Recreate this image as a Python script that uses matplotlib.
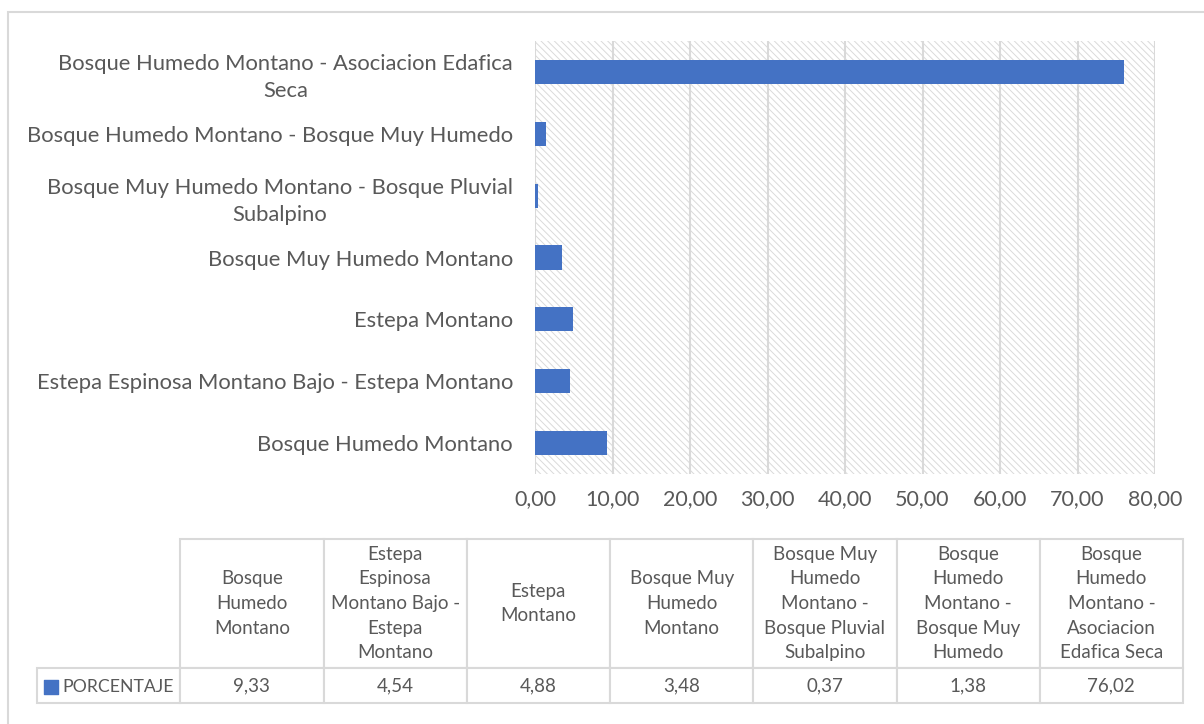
import matplotlib.pyplot as plt
import matplotlib.patches as mpatches
import numpy as np

# data (bottom to top in the bar chart, left to right in the table)
categories = [
    'Bosque Humedo Montano',
    'Estepa Espinosa Montano Bajo - Estepa Montano',
    'Estepa Montano',
    'Bosque Muy Humedo Montano',
    'Bosque Muy Humedo Montano - Bosque Pluvial Subalpino',
    'Bosque Humedo Montano - Bosque Muy Humedo',
    'Bosque Humedo Montano - Asociacion Edafica Seca',
]
axis_labels = [
    'Bosque Humedo Montano',
    'Estepa Espinosa Montano Bajo - Estepa Montano',
    'Estepa Montano',
    'Bosque Muy Humedo Montano',
    'Bosque Muy Humedo Montano - Bosque Pluvial\nSubalpino',
    'Bosque Humedo Montano - Bosque Muy Humedo',
    'Bosque Humedo Montano - Asociacion Edafica\nSeca',
]
table_labels = [
    'Bosque\nHumedo\nMontano',
    'Estepa\nEspinosa\nMontano Bajo -\nEstepa\nMontano',
    'Estepa\nMontano',
    'Bosque Muy\nHumedo\nMontano',
    'Bosque Muy\nHumedo\nMontano -\nBosque Pluvial\nSubalpino',
    'Bosque\nHumedo\nMontano -\nBosque Muy\nHumedo',
    'Bosque\nHumedo\nMontano -\nAsociacion\nEdafica Seca',
]
porcentaje = [9.33, 4.54, 4.88, 3.48, 0.37, 1.38, 76.02]
series_name = 'PORCENTAJE'
x_ticks = [0, 10, 20, 30, 40, 50, 60, 70, 80]

# style
bar_color = '#4472C4'
text_color = '#595959'
line_color = '#D9D9D9'
plt.rcParams['font.family'] = ['Lato', 'DejaVu Sans']
plt.rcParams['hatch.linewidth'] = 0.7
fs_table = 13.5
fs_ylab = 15.8
fs_xtick = 15.5

fig = plt.figure(figsize=(12.04, 7.24), dpi=100)
W, H = 1204, 724


def fig_box(x0, y0, x1, y1):
    # pixel box (top-left origin) -> figure fraction rect
    return [x0 / W, 1 - y1 / H, (x1 - x0) / W, (y1 - y0) / H]


# outer chart border (runs off the right and bottom edges)
fig.patches.append(mpatches.Rectangle((8 / W, -0.1), 1.2, 1 - 12 / H + 0.1,
                                      transform=fig.transFigure, fill=False,
                                      edgecolor=line_color, linewidth=1.5))

# bar chart
ax = fig.add_axes(fig_box(535, 41, 1155, 474))
bg = mpatches.Rectangle((0, 0), 1, 1, transform=ax.transAxes,
                        facecolor='white', edgecolor='#DADADA', hatch='\\' * 5,
                        linewidth=0, zorder=0)
ax.add_patch(bg)

y = np.arange(len(categories))
ax.barh(y, porcentaje, height=0.39, color=bar_color, zorder=3)
ax.set_ylim(-0.5, len(categories) - 0.5)
ax.set_xlim(x_ticks[0], x_ticks[-1])
ax.set_xticks(x_ticks)
ax.set_xticklabels([f'{t:.2f}'.replace('.', ',') for t in x_ticks])
ax.set_yticks(y)
ax.set_yticklabels(axis_labels, multialignment='center', linespacing=1.45)
ax.tick_params(axis='both', length=0, labelcolor=text_color)
ax.tick_params(axis='x', pad=11, labelsize=fs_xtick)
ax.tick_params(axis='y', pad=15.8, labelsize=fs_ylab)
ax.grid(axis='x', color=line_color, linewidth=1.5, zorder=1)
ax.set_axisbelow(True)
for s in ax.spines.values():
    s.set_visible(False)

# data table: first column holds the legend key
tax = fig.add_axes(fig_box(37, 539, 1183, 703))
tax.axis('off')
cell_text = [[''] + [f'{v:.2f}'.replace('.', ',') for v in porcentaje]]
table = tax.table(cellText=cell_text, colLabels=[''] + table_labels,
                  cellLoc='center', bbox=[0, 0, 1, 1])
table.auto_set_font_size(False)
for (r, c), cell in table.get_celld().items():
    cell.set_edgecolor(line_color)
    cell.set_linewidth(1.5)
    t = cell.get_text()
    t.set_color(text_color)
    t.set_fontsize(fs_table)
    t.set_linespacing(1.55)
    cell.set_height(129 if r == 0 else 35)
table[(0, 0)].visible_edges = 'open'

tax.scatter([(50.5 - 37) / 1146], [(703 - 686.5) / 164], marker='s', s=95,
            color=bar_color, transform=tax.transAxes, clip_on=False, zorder=5)
tax.text((62 - 37) / 1146, (703 - 686.5) / 164, series_name, transform=tax.transAxes,
         ha='left', va='center', fontsize=12.7, color=text_color, zorder=5)

plt.savefig('out.png', dpi=100)
